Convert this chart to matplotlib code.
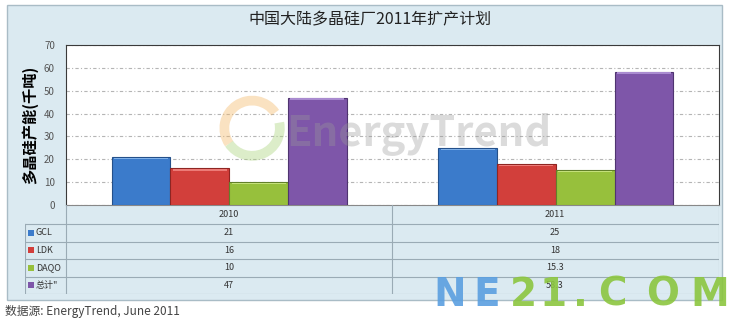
import numpy as np
import matplotlib.pyplot as plt
from matplotlib.patches import Rectangle, Arc

plt.rcParams['font.family'] = ['Noto Sans CJK SC', 'DejaVu Sans']

# data
years = ['2010', '2011']
names = ['GCL', 'LDK', 'DAQO', '总计"']
gcl = [21, 25]
ldk = [16, 18]
daqo = [10, 15.3]
total = [47, 58.3]
values = [gcl, ldk, daqo, total]
colors = ['#3b7bcb', '#d23f3b', '#97c03c', '#7e56a9']
edges = ['#24508a', '#8e2522', '#62802a', '#4f3470']
tops = ['#7fb0e8', '#ec7b77', '#c4e07a', '#a98bd0']

W, H = 740, 321
fig = plt.figure(figsize=(W / 100, H / 100), dpi=100)

def box(x0, y0, x1, y1):
    # pixel box -> figure fraction [l, b, w, h]
    return [x0 / W, 1 - y1 / H, (x1 - x0) / W, (y1 - y0) / H]

# outer panel
fig.patches.append(Rectangle((7 / W, 1 - 300 / H), 715 / W, 295 / H,
                             transform=fig.transFigure, facecolor='#dbeaf1',
                             edgecolor='#a9bcc6', lw=1, zorder=-10))

ax = fig.add_axes(box(66, 45, 719, 205))
ax.set_facecolor('white')
x = np.arange(len(years))
bw = 0.18
for i, (vals, c, e, t) in enumerate(zip(values, colors, edges, tops)):
    ax.bar(x + (i - 1.5) * bw, vals, bw, color=c, edgecolor=e, lw=0.8, zorder=3)
    # bevel highlight on top of the bars
    ax.bar(x + (i - 1.5) * bw, 0.7, bw * 0.92, bottom=np.array(vals) - 1.0,
           color=t, lw=0, zorder=4)
ax.set_xlim(-0.5, 1.5)
ax.set_ylim(0, 70)
ax.set_yticks(range(0, 71, 10))
ax.tick_params(axis='y', length=0, labelsize=7, labelcolor='#555555', pad=8)
ax.set_xticks([])
ax.yaxis.grid(True, color='#b5b5b5', lw=0.8, linestyle=(0, (3, 2, 1, 2)), zorder=1)
for s in ['top', 'left', 'right']:
    ax.spines[s].set_color('#3a3a3a')
ax.spines['bottom'].set_color('#888888')
ax.set_ylabel('多晶硅产能(千吨)', fontsize=11, fontweight='bold', labelpad=4,
              family=['Noto Sans CJK SC'])

# watermark
ax.text(0.54, 0.44, 'EnergyTrend', transform=ax.transAxes, fontsize=30,
        fontweight='bold', color='#9a9a9a', alpha=0.35, ha='center', va='center',
        zorder=5)
ax.add_patch(Arc((0.285, 0.48), 0.085, 0.345, theta1=70, theta2=250,
                 transform=ax.transAxes, lw=7, color='#f3b766', alpha=0.4, zorder=5))
ax.add_patch(Arc((0.285, 0.48), 0.085, 0.345, theta1=250, theta2=400,
                 transform=ax.transAxes, lw=7, color='#a8d27a', alpha=0.4, zorder=5))

fig.text(370 / W, 1 - 20 / H, '中国大陆多晶硅厂2011年扩产计划', fontsize=11.5,
         ha='center', va='center', color='#222222')

# data table
tab = fig.add_axes(box(25, 205, 719, 294))
tab.set_xlim(25, 719)
tab.set_ylim(294, 205)
tab.axis('off')
rows = [205, 224, 241.5, 259, 276.5, 294]
lc = '#9aabb5'
tab.plot([66, 66], [205, 294], color=lc, lw=0.8)
tab.plot([392, 392], [205, 294], color=lc, lw=0.8)
tab.plot([719, 719], [205, 294], color=lc, lw=0.8)
tab.plot([25, 25], [224, 294], color=lc, lw=0.8)
for r in rows[1:]:
    tab.plot([25, 719], [r, r], color=lc, lw=0.8)
for j, yr in enumerate(years):
    cx = 229 + j * 326
    tab.text(cx, (rows[0] + rows[1]) / 2, yr, fontsize=6.5, ha='center',
             va='center', color='#333333')
    for i, vals in enumerate(values):
        tab.text(cx, (rows[i + 1] + rows[i + 2]) / 2, f'{vals[j]:g}', fontsize=6.5,
                 ha='center', va='center', color='#333333')
for i, (n, c) in enumerate(zip(names, colors)):
    yc = (rows[i + 1] + rows[i + 2]) / 2
    tab.add_patch(Rectangle((28, yc - 3), 6, 6, facecolor=c, edgecolor='none'))
    tab.text(36, yc, n, fontsize=6.5, ha='left', va='center', color='#333333')

fig.text(5 / W, 1 - 311 / H, '数据源: EnergyTrend, June 2011', fontsize=8.5,
         ha='left', va='center', color='#444444')

# NE21.COM watermark
for ch, px, c in zip('NE21.COM', [450, 487, 523, 553, 580, 612, 663, 710],
                     ['#5b9fe0', '#5b9fe0'] + ['#8cc63f'] * 6):
    fig.text(px / W, 1 - 306 / H, ch, fontsize=28, fontweight='bold', color=c,
             ha='center', va='baseline', alpha=0.9, family=['DejaVu Sans'])

fig.savefig('out.png', dpi=100)
